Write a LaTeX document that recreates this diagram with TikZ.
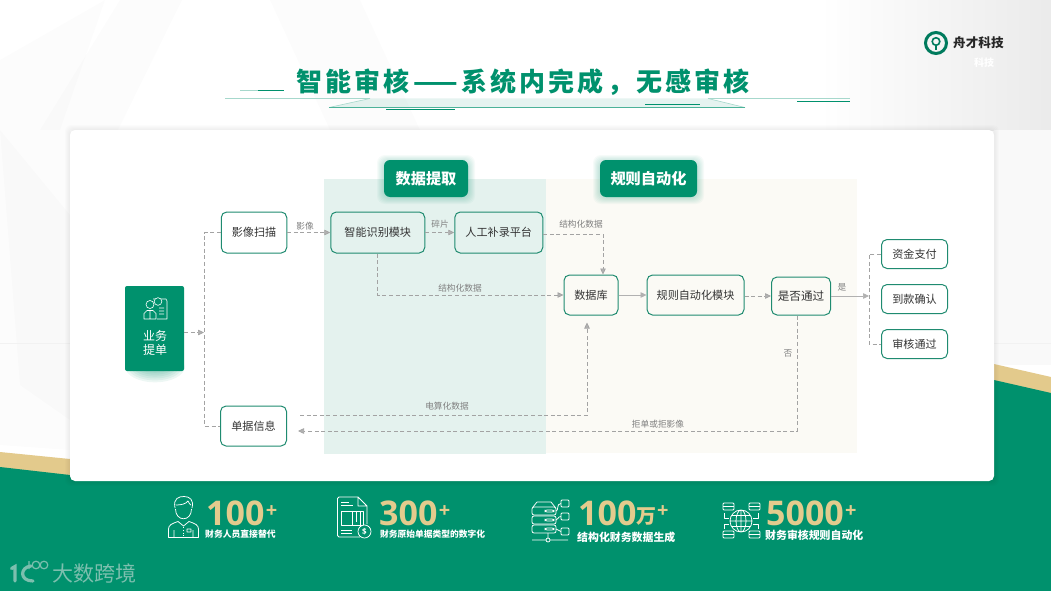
\documentclass[tikz,border=0pt]{standalone}
\usepackage{fontspec}
\setmainfont{Noto Sans CJK SC}
\newfontfamily\titlefont[LetterSpace=12]{Noto Sans CJK SC}
\newfontfamily\numfont{Open Sans}
\usetikzlibrary{arrows.meta, positioning, calc}
\definecolor{deepgreen}{HTML}{00916D}
\definecolor{edgegreen}{HTML}{1F8B70}
\definecolor{panelgreen}{HTML}{E4F2EE}
\definecolor{panelcream}{HTML}{FBFAF5}
\definecolor{bandgold}{HTML}{E3CA8C}
\definecolor{numgold}{HTML}{E3CB8D}
\definecolor{linegray}{HTML}{A3A3A3}
\definecolor{labelgray}{HTML}{808080}
\definecolor{markgreen}{HTML}{7CBFAE}
\tikzset{
    flowbox/.style={draw=edgegreen, rectangle, rounded corners=5.5pt, line width=1pt, inner sep=0pt, text=black!80, font=\fontsize{11.1}{13}\selectfont},
    sidebox/.style={flowbox, minimum width=66pt, minimum height=29pt},
    headbox/.style={rectangle, rounded corners=6pt, fill=deepgreen, text=white, inner sep=0pt, minimum height=37pt, font=\fontsize{15.2}{17}\selectfont\bfseries},
    dashline/.style={draw=linegray, line width=0.7pt, dash pattern=on 4pt off 2.6pt},
    solidline/.style={draw=linegray!85, line width=0.7pt},
    tip/.style={-{Triangle[length=6pt,width=5.5pt,fill=linegray!85]}},
    flowlabel/.style={inner sep=0pt, text=labelgray, font=\fontsize{8.7}{10}\selectfont},
    bignum/.style={anchor=west, inner sep=0pt, text=numgold, font=\fontsize{34}{36}\selectfont\numfont\bfseries},
    plusmark/.style={inner sep=0pt, text=numgold, font=\fontsize{20}{22}\selectfont\numfont\bfseries},
    sublabel/.style={anchor=west, inner sep=0pt, text=white, font=\bfseries},
    icon/.style={draw=white, line width=0.75pt, line join=round},
    facet/.style={fill=black, opacity=0.012},
    rule/.style={line width=0.7pt}
}
\begin{document}
\begin{tikzpicture}[x=1pt, y=-1pt]
    \useasboundingbox (0,0) rectangle (1051,591);
    \fill[white] (0,0) rectangle (1051,591);
    % background facets
    \shade[left color=white, right color=black!8] (820,0) rectangle (1051,130);
    \fill[black!2.5] (994,130) rectangle (1051,365);
    \fill[facet] (120,0) -- (182,0) -- (118,130) -- (40,130) -- cycle;
    \fill[facet] (270,0) -- (360,0) -- (420,130) -- (330,130) -- cycle;
    \fill[facet] (0,60) -- (105,0) -- (60,130) -- (0,130) -- cycle;
    \fill[facet] (0,130) -- (70,130) -- (70,420) -- (20,385) -- cycle;
    \fill[facet] (0,130) -- (70,215) -- (70,450) -- (0,445) -- cycle;
    \draw[black!5, line width=0.5pt] (0,343) -- (70,343) (994,343) -- (1051,343);
    % bottom band
    \fill[bandgold] (0,452) -- (70,459) -- (994,364) -- (1051,377) -- (1051,400) -- (0,480) -- cycle;
    \fill[deepgreen] (0,467) -- (70,475) -- (994,380) -- (1051,393) -- (1051,591) -- (0,591) -- cycle;
    % card
    \foreach \g in {1,...,5}
        \fill[black, opacity=0.012, rounded corners=6pt] (70-\g,130-\g) rectangle (994+\g,481+\g);
    \fill[white, rounded corners=5pt] (70,130) rectangle (994,481);
    % title rules
    \fill[deepgreen, opacity=0.1] (329,107.5) -- (370,98.5) -- (708,98.5) -- (745,107.5) -- cycle;
    \draw[deepgreen!35, line width=0.6pt] (225,98.5) -- (370,98.5) (708,98.5) -- (850,98.5);
    \draw[deepgreen!35, line width=0.6pt] (240,90.5) -- (258,90.5) (329,107.5) -- (370,98.5) (708,98.5) -- (745,107.5);
    \draw[deepgreen!70, rule] (329,107.5) -- (745,107.5);
    \draw[deepgreen, rule] (258,90.5) -- (284,90.5) (386,109) -- (455,109) (645,104.5) -- (700,104.5) (797,101) -- (850,101);
    \node[inner sep=0pt, text=deepgreen, font=\fontsize{26}{28}\selectfont\titlefont\bfseries] (title) at (523,82) {智能审核\hspace{3.5pt}——\hspace{3.5pt}系统内完成，无感审核};
    % logo
    \draw[deepgreen!85!black, line width=3pt] (936,43) circle (10.5);
    \draw[deepgreen!85!black, line width=1.6pt] (936,50) -- (936,45) (936,41.5) circle (3.8);
    \node[inner sep=0pt, anchor=west, text=black!85, font=\fontsize{12.6}{14}\selectfont\bfseries] (logotext) at (953,43) {舟才科技};
    \node[inner sep=0pt, text=white, font=\fontsize{10}{12}\selectfont\bfseries] (logoghost) at (984,63) {科技};
    % panels
    \fill[panelgreen] (324,179) rectangle (546,454);
    \fill[panelcream] (546,179) rectangle (857,453);
    % glows
    \foreach \g in {1,...,7} {
        \fill[deepgreen, opacity=0.035, rounded corners=8pt] (384-\g,162-\g) rectangle (468+\g,197+\g);
        \fill[deepgreen, opacity=0.035, rounded corners=8pt] (600-\g,162-\g) rectangle (697+\g,197+\g);
        \fill[deepgreen, opacity=0.07] (155,367) ellipse ({10+2.8*\g} and {2+1.9*\g});
    }
    \node[headbox, minimum width=84pt] (extract) at (426,178.5) {数据提取};
    \node[headbox, minimum width=97pt] (rulehead) at (648.5,178.5) {规则自动化};
    % flow nodes
    \node[rectangle, rounded corners=2pt, fill=deepgreen, minimum width=59pt, minimum height=85pt, inner sep=0pt] (order) at (154.5,328.5) {};
    \node[inner sep=0pt, align=center, text=white, font=\fontsize{12}{14}\selectfont] (ordertext) at (155,342.5) {业务\\提单};
    \node[flowbox, minimum width=65.5pt, minimum height=41pt] (scan) at (254,232.5) {影像扫描};
    \node[flowbox, minimum width=94pt, minimum height=41pt, right=43pt of scan] (ocr) {智能识别模块};
    \node[flowbox, minimum width=88pt, minimum height=41pt, right=29pt of ocr] (manual) {人工补录平台};
    \node[flowbox, minimum width=66pt, minimum height=40pt] (bill) at (253.5,426) {单据信息};
    \node[flowbox, minimum width=54pt, minimum height=40pt] (db) at (591,295) {数据库};
    \node[flowbox, minimum width=97pt, minimum height=40pt, right=28pt of db] (ruleauto) {规则自动化模块};
    \node[flowbox, minimum width=59pt, minimum height=38pt, font=\fontsize{11.6}{13}\selectfont] (pass) at (801,296) {是否通过};
    \node[sidebox] (fund) at (914.5,254) {资金支付};
    \node[sidebox, below=15pt of fund] (receipt) {到款确认};
    \node[sidebox, below=15pt of receipt] (audit) {审核通过};
    \coordinate (trunk) at (204,332.5);
    \coordinate (split) at (869,296);
    \coordinate (billout) at (300,415.5);
    \coordinate (billin) at (298,431);
    % connectors
    \draw[dashline, tip] (order.east |- trunk) -- (trunk);
    \draw[dashline] (scan.west) -| (trunk) |- (bill.west);
    \draw[dashline, tip] (scan.east) -- (ocr.west);
    \draw[dashline, tip] (ocr.east) -- (manual.west);
    \draw[dashline, tip] ([yshift=-1.5pt]manual.east) -| ([xshift=12pt]db.north);
    \draw[dashline, tip] (ocr.south) |- (db.west);
    \draw[solidline, tip] (db.east) -- (ruleauto.west);
    \draw[dashline, tip] ([yshift=-1pt]ruleauto.east) -- (pass.west);
    \draw[solidline, tip] (pass.east) -- (split);
    \draw[dashline] (fund.west) -| (split) |- (audit.west);
    \draw[dashline, tip] (billout) -| ([xshift=-4pt,yshift=-7pt]db.south);
    \draw[dashline, tip] ([xshift=-4pt]pass.south) |- (billin);
    % flow labels
    \node[flowlabel] (lbimage) at (305,226) {影像};
    \node[flowlabel] (lbpiece) at (440,224) {碎片};
    \node[flowlabel] (lbstruct) at (581,224.5) {结构化数据};
    \node[flowlabel] (lbstructb) at (460,288) {结构化数据};
    \node[flowlabel] (lbyes) at (842,287) {是};
    \node[flowlabel] (lbno) at (788,353) {否};
    \node[flowlabel] (lbelec) at (447,406) {电算化数据};
    \node[flowlabel] (lbreject) at (658,424) {拒单或拒影像};
    % order icon
    \draw[icon, line width=0.6pt] (150,304.5) circle (4) (144,319) -- (144,313.5) -- (147,310.5) -- (153,310.5) -- (156,313.5) -- (156,319) -- cycle (150,311) -- (150,319);
    \draw[icon, line width=0.6pt] (153,299) -- (166,299) -- (167,301) -- (167,319) -- (157,319) (159,308) -- (164,308) (159,311) -- (164,311) (159,314) -- (164,314);
    \draw[icon, line width=0.6pt, fill=deepgreen] (158,301.5) circle (3.8);
    % figures
    \draw[icon] (175.5,509) .. controls (175.5,522) and (191.5,522) .. (191.5,509) (175,508) .. controls (173,498) and (179,496.5) .. (184,496.5) .. controls (190,496.5) and (194,500) .. (192,508) (176,505) .. controls (181,505) and (186,504) .. (188,501) .. controls (189,503) and (190,505) .. (191,505);
    \draw[icon] (168.5,537.5) -- (168.5,529) .. controls (168.5,525) and (172,523.5) .. (178,521.5) -- (183.5,526) -- (189,521.5) .. controls (195,523.5) and (198.5,525) .. (198.5,529) -- (198.5,537.5) -- cycle (174,530) -- (174,537.5) (193,530) -- (193,537.5) (187,529) rectangle (191,532);
    \draw[icon, dotted] (183.5,527) -- (183.5,537);
    \node[bignum] (numstaff) at (206,513) {100};
    \node[plusmark, right=1pt of numstaff, yshift=1pt] (plusstaff) {+};
    \node[sublabel, font=\fontsize{8.8}{10}\selectfont\bfseries] (substaff) at (205,534.5) {财务人员直接替代};
    \draw[icon] (360,537) -- (339,537) -- (337.5,535.5) -- (337.5,498.5) -- (339,497) -- (358,497) -- (367,506) -- (367,524) (358,497) -- (358,506) -- (367,506);
    \draw[icon] (341,511) rectangle (363,525) (352,511) -- (352,525) (356,511) -- (356,522) (360,511) -- (360,525) (341,502) -- (349,502) (341,505) -- (353,505) (341,530) -- (352,530) (341,533) -- (352,533);
    \draw[icon, fill=deepgreen] (364.5,531.5) circle (6.5);
    \node[inner sep=0pt, text=white, font=\fontsize{8}{9}\selectfont\numfont\bfseries] (coin) at (364.5,531.5) {\$};
    \node[bignum] (numtype) at (379,513) {300};
    \node[plusmark, right=1pt of numtype, yshift=1pt] (plustype) {+};
    \node[sublabel, font=\fontsize{8.75}{10}\selectfont\bfseries] (subtype) at (380,534) {财务原始单据类型的数字化};
    \foreach \r in {507,516,525}
        \draw[icon, rounded corners=2pt] (532,\r) rectangle (556,\r+8) (545,\r+3) rectangle (554,\r+5);
    \draw[icon] (533,507) -- (537,502) -- (551,502) -- (555,507);
    \draw[icon, rounded corners=1pt] (561,500) rectangle (569,507) (561,513) rectangle (569,520) (561,528) rectangle (569,535);
    \draw[icon] (556,511) .. controls (559,511) and (556,503.5) .. (561,503.5) (556,520) .. controls (559,520) and (557,516.5) .. (561,516.5) (556,529) -- (561,531.5);
    \draw[icon] (532,540) -- (546,540) (550,540) -- (568,540) (548,540) circle (2) (548,533) -- (548,538);
    \node[bignum] (numdata) at (578,513) {100};
    \node[plusmark, right=0pt of numdata, yshift=-4pt, font=\fontsize{20}{22}\selectfont\bfseries] (wan) {万};
    \node[plusmark, right=0pt of wan, yshift=5pt] (plusdata) {+};
    \node[sublabel, font=\fontsize{10.9}{12}\selectfont\bfseries] (subdata) at (577,537) {结构化财务数据生成};
    \draw[icon] (741,521) circle (11) (741,521) ellipse (5 and 11) (741,510) -- (741,532) (730,521) -- (752,521) (731.5,515.5) -- (750.5,515.5) (731.5,526.5) -- (750.5,526.5);
    \foreach \bx/\by in {723/503,749/503,723/531,749/531}
        \draw[icon, rounded corners=1pt] (\bx,\by) rectangle (\bx+11,\by+7) (\bx,\by+3.5) -- (\bx+11,\by+3.5);
    \draw[icon] (724,513) -- (724,518) -- (729,518) (758,513) -- (758,518) -- (753,518) (724,529) -- (724,524) -- (729,524) (758,529) -- (758,524) -- (753,524);
    \node[bignum] (numrule) at (766,513) {5000};
    \node[plusmark, right=1pt of numrule, yshift=1pt] (plusrule) {+};
    \node[sublabel, font=\fontsize{10.9}{12}\selectfont\bfseries] (subrule) at (765,535) {财务审核规则自动化};
    % watermark
    \draw[markgreen, line width=3.2pt, line cap=round] (11.5,568.5) -- (15,566.5) -- (15,581) (31,566) .. controls (20,567) and (19,581) .. (33,581);
    \draw[markgreen, line width=1.2pt] (29,561) -- (29,569) (36,565) circle (3.8) (44,565) circle (3.8);
    \node[inner sep=0pt, text=markgreen, font=\fontsize{21}{23}\selectfont] (mark) at (94.5,573) {大数跨境};
\end{tikzpicture}
\end{document}
